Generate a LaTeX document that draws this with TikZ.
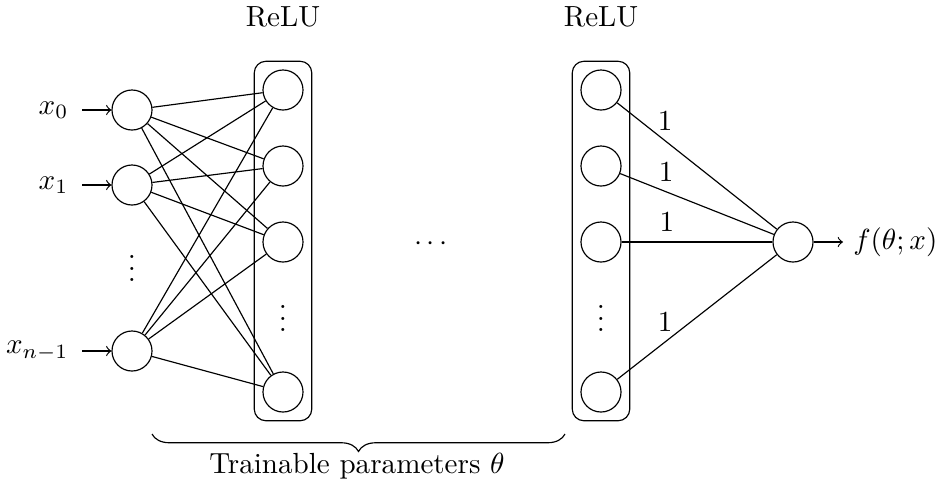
\documentclass[tikz,border=0pt]{standalone}
\usetikzlibrary{fit,decorations.pathreplacing}
\begin{document}
\begin{tikzpicture}[x=0.3436pt,y=-0.3436pt,
  neuron/.style={circle,draw,minimum size=13.75pt,inner sep=0pt},
  layerbox/.style={draw,rounded corners=4pt,inner sep=2.8pt},
  inlabel/.style={anchor=east,inner xsep=4.5pt,inner ysep=0pt},
  weight/.style={above,pos=0.3}]
\useasboundingbox (0,0) rectangle (947,487);

% input layer
\node[neuron] (i0) at (132,110) {};
\node[neuron] (i1) at (132,185) {};
\node[neuron] (i2) at (132,351) {};
\node (idots) at (132,260) {$\vdots$};

\node[inlabel] (l0) at (82,110) {$x_0$};
\node[inlabel] (l1) at (82,185) {$x_1$};
\node[inlabel] (l2) at (82,351) {$x_{n-1}$};
\foreach \k in {0,1,2} \draw[->] (l\k) -- (i\k);

% first hidden layer
\node[neuron] (a1) at (283,90) {};
\node[neuron] (a2) at (283,166) {};
\node[neuron] (a3) at (283,242) {};
\node[neuron] (a4) at (283,392) {};
\node (adots) at (283,310) {$\vdots$};
\node[layerbox,fit=(a1)(a4)] (abox) {};
\node (relua) at (283,17) {ReLU};

\foreach \i in {0,1,2}
  \foreach \j in {1,2,3,4}
    \draw (i\i) -- (a\j);

% intermediate layers
\node (mid) at (431,244) {$\cdots$};

% last hidden layer
\node[neuron] (b1) at (601,90) {};
\node[neuron] (b2) at (601,166) {};
\node[neuron] (b3) at (601,242) {};
\node[neuron] (b4) at (601,392) {};
\node (bdots) at (601,310) {$\vdots$};
\node[layerbox,fit=(b1)(b4)] (bbox) {};
\node (relub) at (601,17) {ReLU};

% output
\node[neuron] (o) at (793,242) {};
\node[anchor=west] (fout) at (843,242) {$f(\theta;x)$};
\draw[->] (o) -- (fout);
\foreach \j in {1,2,3,4}
  \draw (b\j) -- node[weight] {$1$} (o);

% trainable parameters
\coordinate (bl) at (152,434);
\coordinate (br) at (565,434);
\draw[decorate,decoration={brace,mirror,amplitude=6pt}] (bl) -- (br);
\node (train) at (357,466) {Trainable parameters $\theta$};
\end{tikzpicture}
\end{document}
